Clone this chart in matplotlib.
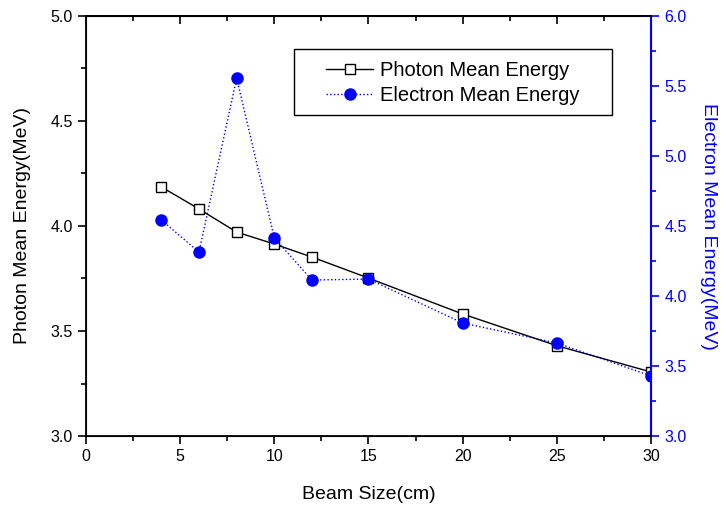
import matplotlib.pyplot as plt
from matplotlib.patches import Rectangle
from matplotlib.ticker import MultipleLocator, NullFormatter

plt.rcParams['font.family'] = ['Liberation Sans', 'DejaVu Sans']

beam = [4, 6, 8, 10, 12, 15, 20, 25, 30]
photon = [4.186, 4.081, 3.971, 3.914, 3.852, 3.752, 3.581, 3.43, 3.305]
electron = [4.543, 4.314, 5.557, 4.414, 4.114, 4.121, 3.807, 3.664, 3.429]

fig = plt.figure(figsize=(7.24, 5.09), dpi=100)
ax = fig.add_axes([0.1188, 0.1434, 0.7803, 0.8252])
ax2 = ax.twinx()

l1, = ax.plot(beam, photon, color='black', lw=1, marker='s', ms=7,
              mfc='white', mec='black', mew=1, label='Photon Mean Energy')
l2, = ax2.plot(beam, electron, color='blue', lw=1, ls=':', marker='o', ms=8,
               mfc='blue', mec='blue', label='Electron Mean Energy')

ax.set_xlim(0, 30)
ax.set_ylim(3.0, 5.0)
ax2.set_ylim(3.0, 6.0)

ax.xaxis.set_major_locator(MultipleLocator(5))
ax.xaxis.set_minor_locator(MultipleLocator(2.5))
ax.yaxis.set_major_locator(MultipleLocator(0.5))
ax.yaxis.set_minor_locator(MultipleLocator(0.25))
ax2.yaxis.set_major_locator(MultipleLocator(0.5))
ax2.yaxis.set_minor_locator(MultipleLocator(0.25))
ax.yaxis.set_major_formatter(plt.FormatStrFormatter('%.1f'))
ax2.yaxis.set_major_formatter(plt.FormatStrFormatter('%.1f'))

ax.tick_params(axis='both', which='both', direction='out', labelsize=11.5, width=1.2)
ax.tick_params(which='major', length=6)
ax.tick_params(which='minor', length=3.5)
ax2.tick_params(axis='y', which='both', direction='out', colors='blue',
                labelsize=11.5, width=1.2)
ax2.tick_params(which='major', length=6)
ax2.tick_params(which='minor', length=3.5)

# top ticks point inward
top = ax.secondary_xaxis('top')
top.xaxis.set_major_locator(MultipleLocator(5))
top.xaxis.set_minor_locator(MultipleLocator(2.5))
top.xaxis.set_major_formatter(NullFormatter())
top.tick_params(which='both', direction='in', width=1.2)
top.tick_params(which='major', length=6)
top.tick_params(which='minor', length=3.5)
top.spines['top'].set_linewidth(1.3)

for s in ['left', 'bottom', 'top']:
    ax2.spines[s].set_linewidth(1.3)
ax2.spines['right'].set_color('blue')
ax2.spines['right'].set_linewidth(1.5)

ax.set_xlabel('Beam Size(cm)', fontsize=14, labelpad=16)
ax.set_ylabel('Photon Mean Energy(MeV)', fontsize=14, labelpad=14)
ax2.set_ylabel('Electron Mean Energy(MeV)', fontsize=14, color='blue',
               rotation=270, labelpad=22)

# legend box drawn separately (wide side padding like the original)
ax2.add_patch(Rectangle((0.368, 0.764), 0.563, 0.157, transform=ax.transAxes,
                        fill=True, facecolor='white', edgecolor='black',
                        lw=1, zorder=5))
leg = ax2.legend(handles=[l1, l2], loc='upper left', bbox_to_anchor=(0.425, 0.893),
                 fontsize=14.5, frameon=False, handlelength=2.35,
                 handletextpad=0.35, borderpad=0, labelspacing=0.3,
                 borderaxespad=0)
leg.set_zorder(6)

fig.savefig('out.png', dpi=100)
